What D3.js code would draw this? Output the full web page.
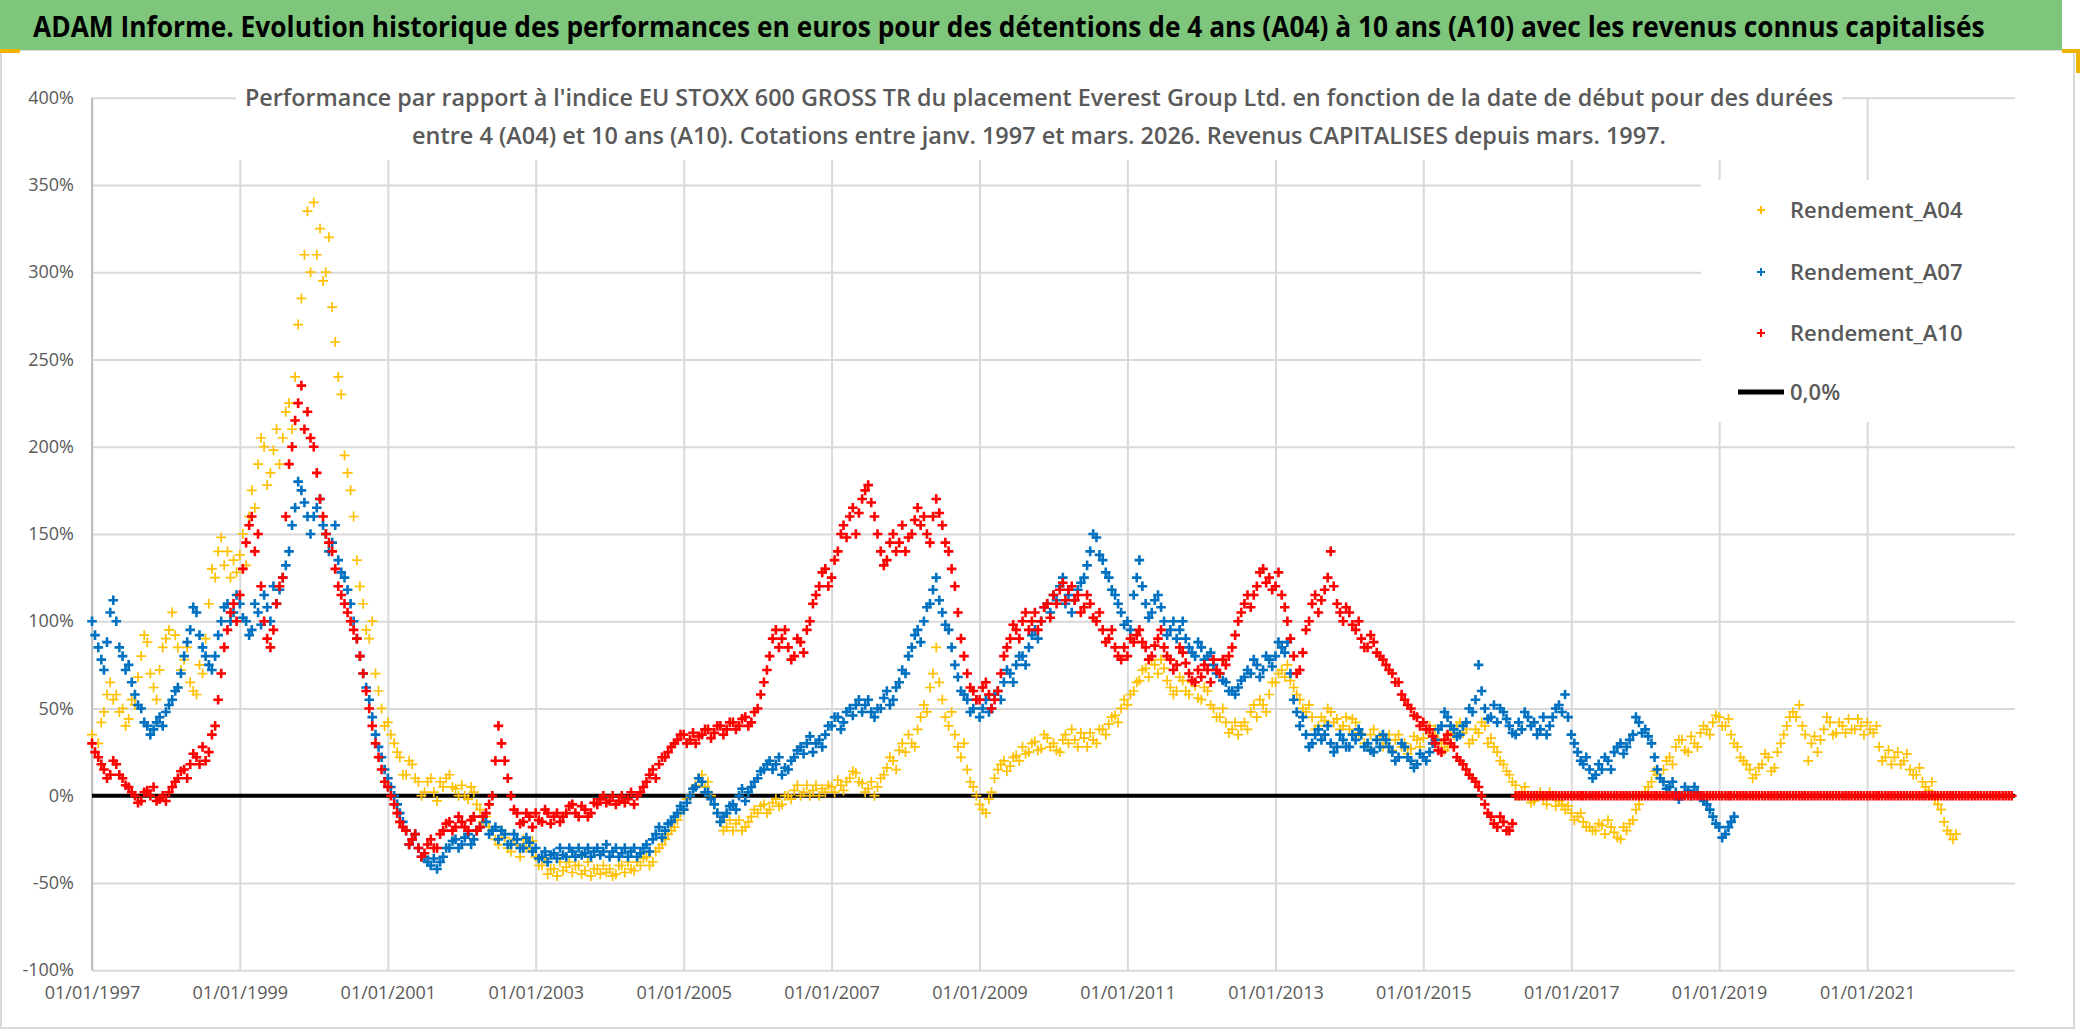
<!DOCTYPE html>
<html>
<head>
<meta charset="utf-8">
<script src="https://cdn.jsdelivr.net/npm/d3@7"></script>
<style>
  body { margin: 0; background: #fff; }
  svg { display: block; font-family: "Open Sans", sans-serif; }
</style>
</head>
<body>
<svg id="chart" width="2086" height="1031"></svg>
<script>
// Texts
const titleText = "ADAM Informe. Evolution historique des performances en euros pour des détentions de 4 ans (A04) à 10 ans (A10) avec les revenus connus capitalisés";
const subtitleLines = [
  "Performance par rapport à l'indice EU STOXX 600 GROSS TR  du placement Everest Group Ltd. en fonction de la date de début pour des durées",
  "entre 4 (A04) et 10 ans (A10). Cotations entre janv. 1997 et mars. 2026. Revenus CAPITALISES depuis mars. 1997."
];

// Axes
const yTicks = [-100, -50, 0, 50, 100, 150, 200, 250, 300, 350, 400];
const xTickYears = [1997, 1999, 2001, 2003, 2005, 2007, 2009, 2011, 2013, 2015, 2017, 2019, 2021];

// Legend
const seriesNames = ["Rendement_A04", "Rendement_A07", "Rendement_A10"];
const seriesColors = ["#FFC000", "#0070C0", "#FF0000"];
const zeroLabel = "0,0%";

// Values in %: one at the start of each month, one mid-month
const a04Start = "1997-01";
const a04 = [
  35, 30, 48, 65, 58, 50, 44, 52, 80, 88, 62, 72,
  90, 105, 85, 78, 65, 58, 70, 110, 125, 148, 140, 135,
  138, 132, 175, 190, 200, 185, 210, 205, 225, 240, 285, 335,
  340, 325, 300, 280, 240, 195, 175, 135, 110, 90, 70, 50,
  42, 30, 22, 12, 18, 8, 2, 10, -3, 5, 12, 4,
  6, -2, 2, -8, -12, -20, -28, -24, -32, -28, -25, -30,
  -35, -40, -45, -42, -38, -41, -44, -40, -43, -46, -42, -40,
  -42, -45, -40, -38, -43, -40, -35, -38, -30, -25, -20, -14,
  -8, 0, 6, 12, 8, -5, -15, -18, -20, -14, -18, -12,
  -10, -5, -8, -2, -5, 0, 3, 0, 6, 3, 0, 2,
  5, 9, 3, 10, 13, 7, 4, 0, 10, 16, 20, 26,
  25, 30, 38, 52, 62, 85, 55, 40, 35, 22, 15, 5,
  -5, -10, 2, 15, 20, 17, 23, 28, 25, 31, 27, 33,
  30, 25, 35, 38, 28, 33, 36, 30, 38, 41, 46, 50,
  52, 60, 66, 73, 78, 70, 73, 62, 60, 66, 58, 63,
  55, 60, 50, 45, 42, 38, 35, 42, 48, 45, 52, 58,
  65, 72, 75, 62, 55, 48, 45, 40, 43, 48, 44, 40,
  38, 42, 35, 28, 38, 34, 30, 26, 35, 30, 27, 32,
  33, 40, 38, 30, 28, 35, 42, 38, 32, 36, 40, 33,
  25, 18, 12, 6, 2, 0, -3, 2, -5, 0, -3, -8,
  -10, -12, -15, -18, -20, -17, -14, -21, -25, -20, -14, -5,
  2, 8, 12, 15, 22, 28, 32, 25, 30, 36, 38, 42,
  45, 40, 35, 28, 20, 15, 12, 18, 22, 16, 30, 40,
  48, 52, 35, 30, 25, 38, 42, 36, 40, 44, 38, 40,
  42, 36, 28, 22, 18, 25, 20, 15, 12, 8, 3, -2,
  -8, -20, -25
];
const a04Mid = [
  25, 42, 58, 55, 48, 40, 55, 68, 92, 70, 55, 85,
  95, 92, 72, 85, 60, 75, 90, 130, 140, 132, 125, 128,
  150, 160, 165, 205, 178, 198, 190, 220, 210, 270, 310, 300,
  310, 295, 320, 260, 230, 185, 160, 120, 95, 100, 60, 40,
  35, 25, 12, 20, 10, 0, 8, 2, 8, 10, 5, 0,
  0, 5, -5, -15, -18, -25, -20, -30, -25, -35, -30, -26,
  -40, -36, -42, -46, -43, -38, -40, -45, -38, -42, -45, -44,
  -46, -40, -44, -42, -38, -36, -40, -32, -28, -22, -18, -10,
  -2, 4, 10, 5, 0, -10, -20, -14, -16, -20, -15, -8,
  -6, -10, -4, -6, 0, -2, 6, 2, 0, 6, 4, 6,
  2, 6, 8, 14, 8, 2, 8, 5, 12, 22, 15, 30,
  35, 28, 45, 48, 70, 65, 45, 48, 28, 30, 8, 0,
  -8, -2, 10, 18, 14, 22, 20, 24, 30, 26, 35, 28,
  26, 32, 30, 32, 36, 28, 32, 38, 35, 45, 42, 55,
  58, 65, 72, 68, 75, 78, 66, 58, 68, 60, 65, 56,
  62, 52, 45, 50, 36, 42, 40, 38, 52, 55, 48, 65,
  70, 68, 66, 58, 50, 52, 38, 45, 50, 42, 38, 45,
  44, 36, 30, 35, 32, 28, 35, 32, 28, 24, 34, 28,
  38, 35, 32, 26, 36, 40, 36, 30, 38, 42, 30, 28,
  20, 14, 8, 0, 5, -4, 0, -2, 2, -6, -5, -6,
  -14, -10, -18, -20, -16, -22, -18, -24, -18, -16, -8, 0,
  5, 14, 10, 20, 18, 32, 26, 34, 28, 40, 35, 46,
  40, 44, 30, 22, 18, 10, 16, 24, 14, 25, 35, 45,
  45, 40, 20, 34, 32, 45, 35, 42, 36, 38, 44, 35,
  38, 40, 20, 26, 22, 18, 24, 12, 16, 5, 8, -5,
  -15, -22, -22
];

const a07Start = "1997-01";
const a07 = [
  100, 85, 72, 105, 100, 80, 75, 58, 50, 40, 38, 45,
  48, 55, 62, 80, 95, 105, 85, 75, 80, 100, 110, 105,
  110, 100, 95, 105, 115, 100, 110, 125, 140, 165, 175, 160,
  160, 170, 150, 145, 135, 125, 110, 90, 70, 55, 35, 22,
  10, 0, -10, -20, -25, -30, -35, -40, -42, -35, -30, -25,
  -28, -22, -25, -18, -15, -20, -25, -22, -28, -25, -30, -27,
  -30, -35, -38, -33, -30, -35, -32, -30, -33, -35, -30, -32,
  -35, -30, -33, -35, -30, -33, -28, -25, -18, -20, -15, -10,
  -8, 0, 5, 8, 2, -5, -15, -10, -5, 0, -3, 5,
  10, 15, 20, 18, 12, 15, 22, 28, 30, 25, 32, 35,
  40, 45, 42, 50, 52, 48, 55, 45, 50, 60, 55, 65,
  70, 85, 95, 100, 110, 125, 105, 95, 75, 60, 55, 50,
  45, 55, 50, 60, 65, 70, 75, 80, 85, 95, 100, 110,
  115, 120, 110, 105, 118, 125, 140, 148, 135, 125, 115, 105,
  100, 115, 135, 110, 105, 115, 100, 95, 90, 100, 85, 80,
  85, 80, 75, 70, 65, 60, 62, 68, 70, 75, 72, 78,
  80, 85, 88, 55, 40, 35, 30, 38, 35, 30, 28, 32,
  28, 32, 35, 30, 25, 28, 32, 25, 22, 28, 20, 18,
  22, 25, 32, 40, 45, 38, 35, 42, 48, 75, 50, 45,
  42, 48, 40, 35, 38, 45, 42, 38, 35, 45, 52, 58,
  35, 25, 18, 15, 12, 15, 20, 25, 30, 28, 35, 42,
  38, 30, 15, 8, 5, 2, 0, 3, 5, 0, -5, -12,
  -18, -22, -15
];
const a07Mid = [
  92, 78, 88, 112, 85, 72, 65, 52, 42, 35, 42, 40,
  52, 60, 70, 88, 108, 92, 80, 72, 92, 108, 100, 115,
  102, 92, 110, 98, 108, 120, 118, 132, 155, 180, 168, 150,
  165, 155, 140, 155, 128, 118, 100, 80, 62, 45, 28, 15,
  5, -5, -15, -28, -22, -35, -38, -36, -38, -30, -26, -30,
  -24, -28, -20, -12, -22, -18, -20, -28, -22, -30, -24, -32,
  -36, -32, -34, -36, -34, -30, -35, -34, -30, -32, -34, -28,
  -32, -35, -30, -32, -35, -30, -32, -22, -24, -16, -12, -6,
  -4, 4, 10, 2, -2, -10, -12, -6, -8, 4, 2, 8,
  14, 18, 15, 22, 16, 20, 26, 24, 34, 30, 28, 40,
  45, 38, 48, 46, 55, 52, 48, 50, 56, 52, 62, 72,
  80, 92, 88, 108, 118, 112, 98, 85, 68, 58, 48, 55,
  50, 48, 58, 55, 72, 65, 80, 75, 92, 90, 108, 105,
  112, 125, 115, 112, 122, 132, 150, 138, 128, 118, 110, 98,
  95, 125, 120, 102, 112, 108, 92, 100, 95, 90, 82, 88,
  78, 82, 70, 66, 60, 58, 66, 72, 78, 68, 80, 74,
  88, 82, 70, 48, 45, 28, 35, 32, 40, 25, 35, 28,
  35, 38, 28, 26, 32, 35, 28, 20, 30, 22, 16, 24,
  20, 30, 38, 48, 40, 34, 40, 50, 55, 60, 44, 52,
  50, 44, 36, 42, 48, 40, 35, 45, 40, 50, 48, 45,
  30, 20, 22, 10, 18, 22, 15, 28, 24, 32, 45, 36,
  34, 22, 10, 4, 8, -2, 5, 0, 2, -3, -8, -16,
  -24, -18, -12
];

const a10Start = "1997-01";
const a10 = [
  30, 22, 15, 12, 18, 10, 5, 0, -3, 3, 5, -2,
  -3, 5, 10, 15, 18, 22, 28, 25, 40, 70, 95, 110,
  115, 145, 160, 150, 100, 85, 110, 125, 190, 215, 235, 220,
  200, 170, 150, 140, 120, 110, 100, 90, 70, 50, 30, 15,
  5, -5, -15, -20, -25, -30, -33, -25, -30, -20, -15, -18,
  -15, -20, -12, -18, -10, 0, 40, 20, 0, -10, -15, -12,
  -10, -15, -10, -12, -15, -10, -5, -12, -8, -10, -5, 0,
  -3, -5, 0, -2, -5, 2, 8, 15, 18, 22, 28, 32,
  35, 32, 30, 35, 38, 36, 40, 38, 42, 40, 45, 42,
  50, 65, 80, 95, 90, 85, 80, 88, 95, 110, 120, 130,
  125, 140, 155, 160, 150, 170, 178, 160, 140, 135, 150, 145,
  140, 150, 165, 160, 145, 170, 155, 140, 120, 90, 70, 60,
  55, 65, 50, 60, 80, 90, 95, 100, 95, 105, 100, 110,
  115, 118, 112, 120, 115, 108, 110, 100, 95, 90, 85, 78,
  80, 88, 95, 85, 80, 90, 85, 78, 75, 82, 70, 65,
  68, 72, 78, 70, 75, 85, 100, 110, 108, 120, 130, 125,
  120, 115, 100, 80, 72, 95, 110, 105, 118, 140, 110, 100,
  105, 95, 90, 85, 88, 80, 75, 70, 65, 55, 50, 45,
  42, 38, 30, 25, 35, 28, 20, 15, 10, 5, -5, -12,
  -18, -15, -20
];
const a10Mid = [
  25, 18, 10, 20, 12, 6, 2, -4, 2, 0, -3, 0,
  2, 8, 14, 10, 24, 18, 20, 35, 55, 85, 105, 100,
  130, 155, 140, 120, 90, 95, 120, 160, 200, 225, 210, 205,
  185, 160, 145, 130, 115, 105, 95, 80, 60, 40, 22, 8,
  0, -10, -18, -28, -22, -35, -28, -30, -22, -16, -20, -12,
  -18, -14, -20, -12, -5, 20, 30, 10, -8, -16, -10, -18,
  -14, -8, -16, -10, -12, -6, -10, -6, -12, -4, -2, -4,
  0, -3, -4, 2, 0, 5, 12, 10, 22, 25, 30, 35,
  30, 36, 34, 38, 33, 40, 35, 42, 38, 44, 40, 48,
  58, 72, 90, 85, 95, 78, 90, 82, 100, 115, 128, 120,
  135, 150, 148, 165, 162, 175, 168, 150, 132, 145, 140, 155,
  148, 158, 155, 150, 160, 162, 145, 130, 105, 80, 62, 55,
  62, 58, 55, 70, 85, 98, 90, 105, 100, 95, 108, 102,
  110, 122, 118, 112, 105, 115, 102, 105, 88, 95, 80, 85,
  90, 92, 88, 78, 86, 95, 80, 72, 85, 76, 66, 72,
  75, 65, 72, 78, 80, 92, 105, 115, 115, 128, 122, 118,
  128, 108, 90, 70, 82, 100, 115, 112, 125, 120, 105, 108,
  98, 100, 85, 92, 82, 78, 72, 65, 58, 52, 46, 40,
  38, 34, 26, 32, 30, 22, 18, 12, 8, 0, -10, -16,
  -12, -20, -16
];
// empty cells after the last A10 date are plotted as 0 (from 2016-04)
const a10TailStart = "2016-04";
const a10Tail = [
  0, 0, 0, 0, 0, 0, 0, 0, 0,
  0, 0, 0, 0, 0, 0, 0, 0, 0, 0, 0, 0,
  0, 0, 0, 0, 0, 0, 0, 0, 0, 0, 0, 0,
  0, 0, 0, 0, 0, 0, 0, 0, 0, 0, 0, 0,
  0, 0, 0, 0, 0, 0, 0, 0, 0, 0, 0, 0,
  0, 0, 0, 0, 0, 0, 0, 0, 0, 0, 0, 0,
  0, 0, 0, 0, 0, 0, 0, 0, 0, 0, 0, 0
];

const plot = { left: 92, right: 2015, top: 97.7, bottom: 970.2 };

const svg = d3.select("#chart");

// Frame and title band
svg.append("rect").attr("x", 1).attr("y", 50).attr("width", 2073).attr("height", 978)
  .attr("fill", "#fff").attr("stroke", "#d9d9d9").attr("stroke-width", 2);
svg.append("rect").attr("x", 0).attr("y", 0).attr("width", 2062).attr("height", 50)
  .attr("fill", "#7dc67b");
svg.append("rect").attr("x", 0).attr("y", 49).attr("width", 20).attr("height", 4).attr("fill", "#f0b400");
svg.append("rect").attr("x", 2062).attr("y", 49).attr("width", 18).attr("height", 4).attr("fill", "#f0b400");
svg.append("rect").attr("x", 2076).attr("y", 49).attr("width", 4).attr("height", 24).attr("fill", "#f0b400");

// Title: squeezed horizontally to look like a condensed face
const title = svg.append("text")
  .attr("font-size", 29).attr("font-weight", 700).attr("fill", "#000")
  .text(titleText);
const titleWidth = title.node().getComputedTextLength();
title.attr("transform", `translate(33,37) scale(${1952 / titleWidth},1)`);

// Scales
const parseMonth = d3.timeParse("%Y-%m");
const x = d3.scaleTime()
  .domain([new Date(1997, 0, 1), new Date(2023, 0, 1)])
  .range([plot.left, plot.right]);
const y = d3.scaleLinear()
  .domain([-100, 400])
  .range([plot.bottom, plot.top]);

// month index -> date (dayShift = 0 for start of month, 15 for mid-month)
const monthly = (start, values, dayShift) => {
  const t0 = parseMonth(start);
  return values.map((v, i) => ({
    date: d3.timeDay.offset(d3.timeMonth.offset(t0, i), dayShift),
    value: v
  }));
};
const sA04 = monthly(a04Start, a04, 0).concat(monthly(a04Start, a04Mid, 15));
const sA07 = monthly(a07Start, a07, 0).concat(monthly(a07Start, a07Mid, 15));
const sA10 = monthly(a10Start, a10, 0).concat(monthly(a10Start, a10Mid, 15))
  .concat(monthly(a10TailStart, a10Tail, 0)).concat(monthly(a10TailStart, a10Tail, 15));

// Grid + axes
const yAxis = svg.append("g")
  .attr("transform", `translate(${plot.left},0)`)
  .call(d3.axisLeft(y).tickValues(yTicks).tickSize(-(plot.right - plot.left)).tickPadding(18)
    .tickFormat(d => d + "%"));
yAxis.select(".domain").remove();
yAxis.selectAll(".tick line").attr("stroke", "#d9d9d9").attr("stroke-width", 2);
yAxis.selectAll(".tick text").attr("font-size", 18).attr("fill", "#595959")
  .attr("font-family", "Open Sans, sans-serif");

const xAxis = svg.append("g")
  .attr("transform", `translate(0,${plot.bottom})`)
  .call(d3.axisBottom(x).tickValues(xTickYears.map(yr => new Date(yr, 0, 1)))
    .tickSize(-(plot.bottom - plot.top)).tickPadding(16)
    .tickFormat(d3.timeFormat("%d/%m/%Y")));
xAxis.select(".domain").remove();
xAxis.selectAll(".tick line").attr("stroke", "#d9d9d9").attr("stroke-width", 2);
xAxis.selectAll(".tick text").attr("font-size", 18).attr("fill", "#595959")
  .attr("font-family", "Open Sans, sans-serif");

svg.append("line")
  .attr("x1", plot.left).attr("x2", plot.left)
  .attr("y1", plot.top).attr("y2", plot.bottom)
  .attr("stroke", "#bfbfbf").attr("stroke-width", 2);

// Subtitle (chart title) with its white box
svg.append("rect").attr("x", 236).attr("y", 80).attr("width", 1606).attr("height", 80).attr("fill", "#fff");
svg.selectAll(".subtitle")
  .data(subtitleLines)
  .enter()
  .append("text")
  .attr("class", "subtitle")
  .attr("x", 1039)
  .attr("y", (d, i) => 106 + i * 38)
  .attr("text-anchor", "middle")
  .attr("textLength", (d, i) => i === 0 ? 1588 : 1254)
  .attr("lengthAdjust", "spacingAndGlyphs")
  .attr("font-size", 23).attr("font-weight", 600).attr("fill", "#595959")
  .text(d => d);

// Zero line under the markers
svg.append("line")
  .attr("x1", plot.left).attr("x2", plot.right)
  .attr("y1", y(0)).attr("y2", y(0))
  .attr("stroke", "#000").attr("stroke-width", 4);

// Scatter series drawn as "+" markers
const cross = r => `M${-r},0H${r}M0,${-r}V${r}`;
const series = [
  { data: sA04, color: seriesColors[0], r: 5, w: 1.7 },
  { data: sA07, color: seriesColors[1], r: 4.8, w: 2.6 },
  { data: sA10, color: seriesColors[2], r: 4.8, w: 2.6 }
];
series.forEach(s => {
  svg.append("g")
    .selectAll("path")
    .data(s.data)
    .enter()
    .append("path")
    .attr("transform", d => `translate(${x(d.date)},${y(d.value)})`)
    .attr("d", cross(s.r))
    .attr("stroke", s.color)
    .attr("stroke-width", s.w)
    .attr("fill", "none");
});

// Legend
const legend = svg.append("g");
legend.append("rect").attr("x", 1701).attr("y", 180).attr("width", 314).attr("height", 242).attr("fill", "#fff");
const legendRows = [210, 272, 333];
seriesNames.forEach((name, i) => {
  legend.append("path")
    .attr("transform", `translate(1761,${legendRows[i]})`)
    .attr("d", cross(4))
    .attr("stroke", seriesColors[i]).attr("stroke-width", 2).attr("fill", "none");
  legend.append("text")
    .attr("x", 1790).attr("y", legendRows[i] + 8)
    .attr("font-size", 22).attr("font-weight", 600).attr("fill", "#595959")
    .text(name);
});
legend.append("line")
  .attr("x1", 1738).attr("x2", 1784).attr("y1", 392).attr("y2", 392)
  .attr("stroke", "#000").attr("stroke-width", 5);
legend.append("text")
  .attr("x", 1790).attr("y", 400)
  .attr("font-size", 22).attr("font-weight", 600).attr("fill", "#595959")
  .text(zeroLabel);
</script>
</body>
</html>
